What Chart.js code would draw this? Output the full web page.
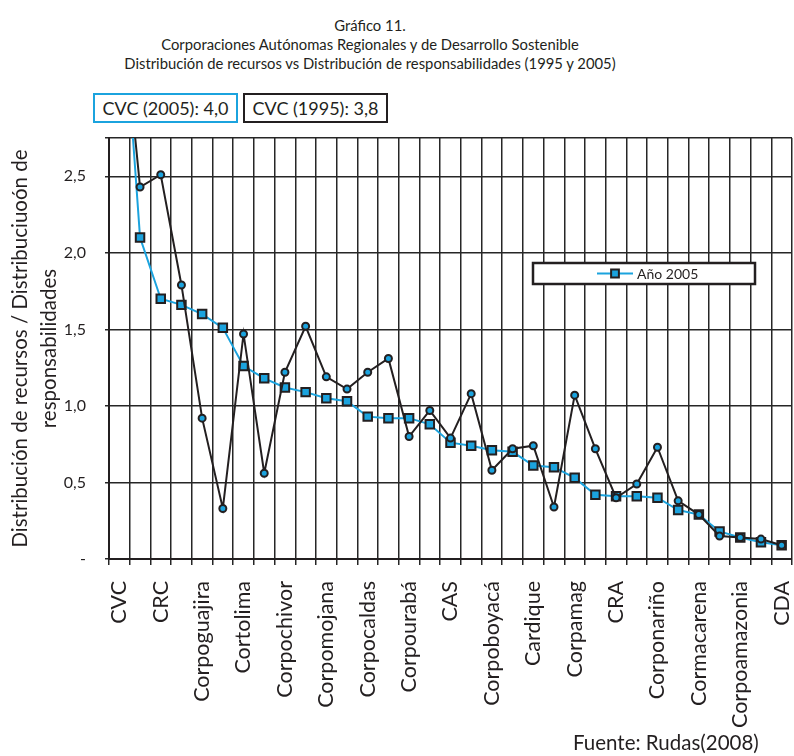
<!DOCTYPE html>
<html>
<head>
<meta charset="utf-8">
<script src="https://cdn.jsdelivr.net/npm/chart.js@4"></script>
<style>
  body { margin: 0; width: 794px; height: 756px; overflow: hidden; background: #fff; font-family: Lato, sans-serif; color: #231F20; }
  .t { position: absolute; left: 0; width: 740px; text-align: center; font-size: 14.8px; line-height: 19px; }
  .box { position: absolute; top: 93px; height: 30px; width: 145px; box-sizing: border-box; border: 2px solid #231F20;
         font-size: 18px; line-height: 26px; text-align: center; }
  #wrap { position: absolute; left: 0; top: 0; width: 800px; height: 756px; }
  #src { position: absolute; left: 573px; top: 730px; font-size: 20.5px; }
</style>
</head>
<body>
<div class="t" style="top:16px">Gráfico 11.</div>
<div class="t" style="top:35px">Corporaciones Autónomas Regionales y de Desarrollo Sostenible</div>
<div class="t" style="top:54px">Distribución de recursos vs Distribución de responsabilidades (1995 y 2005)</div>
<div class="box" style="left:93px; border-color:#1BA3DE">CVC (2005): 4,0</div>
<div class="box" style="left:243px">CVC (1995): 3,8</div>
<div id="wrap"><canvas id="chart" width="800" height="756"></canvas></div>
<div id="src">Fuente: Rudas(2008)</div>
<script>
// corporaciones (solo se rotulan las pares, como en el original)
const corporaciones = [
  'CVC', 'CAR', 'CRC', 'CDMB', 'Corpoguajira', 'Cornare', 'Cortolima', 'Corantioquia',
  'Corpochivor', 'CRQ', 'Corpomojana', 'Corpoguavio', 'Corpocaldas', 'Carder', 'Corpourabá',
  'Corponor', 'CAS', 'CVS', 'Corpoboyacá', 'Corpocesar', 'Cardique', 'CAM', 'Corpamag',
  'Carsucre', 'CRA', 'Codechocó', 'Corponariño', 'Corporinoquia', 'Cormacarena', 'Coralina',
  'Corpoamazonia', 'CSB', 'CDA'
];
// recursos / responsabilidades
const anio2005 = [4.0, 2.10, 1.70, 1.66, 1.60, 1.51, 1.26, 1.18, 1.12, 1.09, 1.05, 1.03, 0.93,
  0.92, 0.92, 0.88, 0.76, 0.74, 0.71, 0.70, 0.61, 0.60, 0.53, 0.42, 0.41, 0.41, 0.40, 0.32,
  0.29, 0.18, 0.14, 0.11, 0.09];
const anio1995 = [3.8, 2.43, 2.51, 1.79, 0.92, 0.33, 1.47, 0.56, 1.22, 1.52, 1.19, 1.11, 1.22,
  1.31, 0.80, 0.97, 0.79, 1.08, 0.58, 0.72, 0.74, 0.34, 1.07, 0.72, 0.40, 0.49, 0.73, 0.38,
  0.29, 0.15, 0.14, 0.13, 0.09];
const yTicks = [0, 0.5, 1, 1.5, 2, 2.5, 2.75];

const azul = '#1BA3DE';
const negro = '#231F20';
const rejilla = '#262626';

// leyenda con recuadro, solo para la serie 2005
const boxLegend = {
  id: 'boxLegend',
  afterDraw(chart) {
    const ctx = chart.ctx;
    const ds = chart.data.datasets[0];
    ctx.save();
    ctx.fillStyle = '#fff';
    ctx.fillRect(533, 263, 222, 21);
    ctx.lineWidth = 2.5;
    ctx.strokeStyle = negro;
    ctx.strokeRect(533, 263, 222, 21);
    ctx.strokeStyle = ds.borderColor;
    ctx.lineWidth = 2;
    ctx.beginPath();
    ctx.moveTo(597, 273.5);
    ctx.lineTo(633, 273.5);
    ctx.stroke();
    ctx.fillStyle = ds.pointBackgroundColor;
    ctx.strokeStyle = ds.pointBorderColor;
    ctx.lineWidth = ds.pointBorderWidth;
    Chart.helpers.drawPoint(ctx, { pointStyle: 'rect', radius: 5.5, borderWidth: 2 }, 615, 273.5);
    ctx.fillStyle = negro;
    ctx.font = '14px Lato';
    ctx.textBaseline = 'middle';
    ctx.fillText(ds.label, 637, 274);
    ctx.restore();
  }
};

new Chart(document.getElementById('chart'), {
  type: 'line',
  data: {
    labels: corporaciones,
    datasets: [
      {
        label: 'Año 2005',
        data: anio2005,
        borderColor: azul,
        borderWidth: 2,
        pointStyle: 'rect',
        pointRadius: 6,
        pointBackgroundColor: azul,
        pointBorderColor: negro,
        pointBorderWidth: 2,
        order: 2
      },
      {
        label: 'Año 1995',
        data: anio1995,
        borderColor: negro,
        borderWidth: 2,
        pointStyle: 'circle',
        pointRadius: 3.5,
        pointBackgroundColor: azul,
        pointBorderColor: negro,
        pointBorderWidth: 2,
        order: 1
      }
    ]
  },
  options: {
    responsive: false,
    animation: false,
    layout: { padding: { top: 138, right: 1, bottom: 0, left: 0 } },
    plugins: {
      legend: { display: false },
      tooltip: { enabled: false }
    },
    scales: {
      x: {
        offset: true,
        grid: { offset: true, color: rejilla, lineWidth: 1.5, tickLength: 6 },
        border: { color: negro, width: 2 },
        ticks: {
          autoSkip: false,
          minRotation: 90,
          maxRotation: 90,
          padding: 16,
          color: negro,
          font: { family: 'Lato', size: 21.5 },
          callback: (v, i) => (i % 2 === 0 ? corporaciones[i] : '')
        },
        afterFit: s => {
          s.height = 197;
          s.paddingLeft = 0;
          s.paddingRight = 0;
        }
      },
      y: {
        min: 0,
        max: 2.75,
        afterBuildTicks: s => { s.ticks = yTicks.map(v => ({ value: v })); },
        afterFit: s => { s.width = 109; },
        grid: { color: rejilla, lineWidth: 1.5, tickLength: 4 },
        border: { color: negro, width: 2 },
        ticks: {
          padding: 19,
          color: negro,
          font: { family: 'Lato', size: 16 },
          callback: v => (v === 0 ? '-' : v > 2.5 ? '' : v.toFixed(1).replace('.', ','))
        },
        title: {
          display: true,
          text: ['Distribución de recursos / Distribuciuoón de', 'responsabilidades'],
          color: negro,
          font: { family: 'Lato', size: 20.5, lineHeight: 1.4 },
          padding: { top: 6, bottom: 0 }
        }
      }
    }
  },
  plugins: [boxLegend]
});
</script>
</body>
</html>
